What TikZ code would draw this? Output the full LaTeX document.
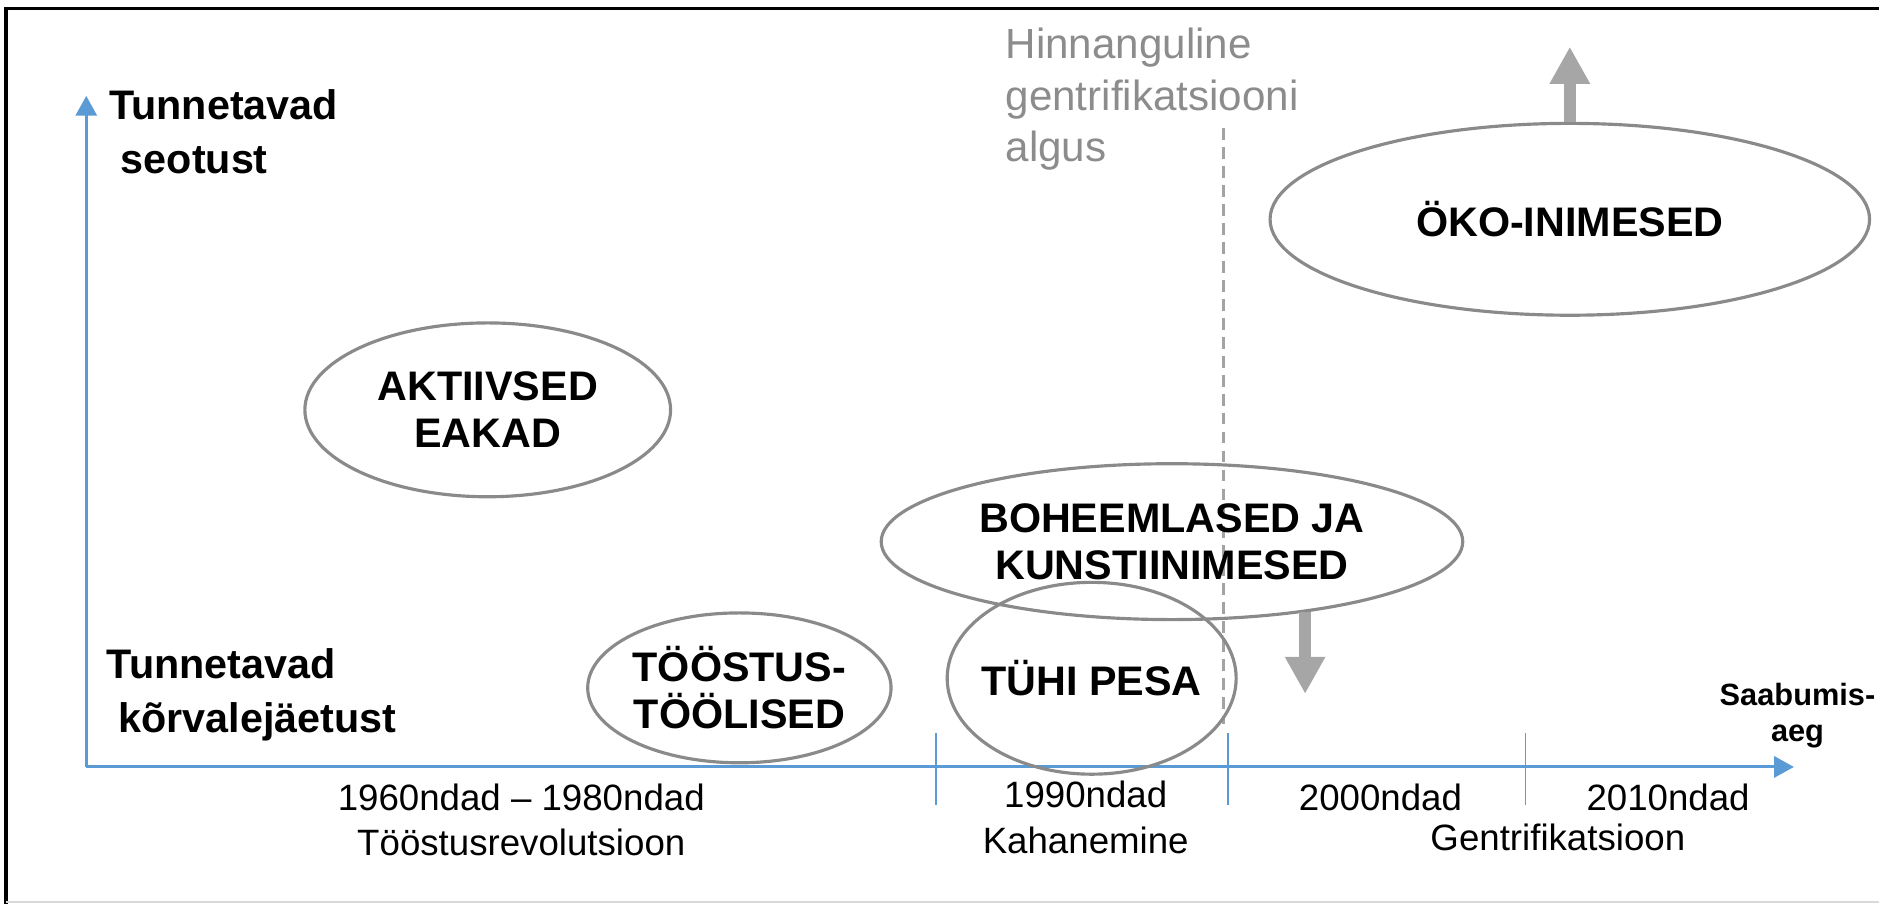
\documentclass[tikz,border=0pt]{standalone}
\usepackage{fontspec}
\setmainfont{Liberation Sans}
\usetikzlibrary{shapes.geometric,arrows.meta}
\definecolor{axisblue}{HTML}{5B9BD5}
\definecolor{ovalgray}{HTML}{8A8A8A}
\definecolor{arrowgray}{HTML}{A6A6A6}
\definecolor{notegray}{HTML}{8C8C8C}

\begin{document}
\begin{tikzpicture}[x=0.01cm, y=-0.01cm, line width=0.7pt,
	oval/.style={ellipse, draw=ovalgray, line width=0.75pt, inner sep=0pt, align=center, font=\fontsize{9.8}{11.1}\selectfont\bfseries},
	axislabel/.style={anchor=west, align=left, inner sep=0pt, font=\fontsize{9.8}{12.8}\selectfont\bfseries},
	note/.style={anchor=west, align=left, inner sep=0pt, text=notegray, font=\fontsize{10}{12.2}\selectfont},
	period/.style={align=center, inner sep=0pt, font=\fontsize{8.7}{10.8}\selectfont},
	axisline/.style={axisblue, line width=0.7pt, -{Triangle[length=4.7pt,width=5pt]}},
	tickline/.style={axisblue, line width=0.4pt},
	bigarrow/.style={arrowgray, line width=2.8pt, -{Triangle[length=8.8pt,width=9pt]}}]
\useasboundingbox (0,0) rectangle (1568,754);
\draw[black, line width=0.8pt] (1568,7)--(5,7)--(5,754);
\draw[black!15, line width=0.5pt] (5,753)--(1568,753);

\coordinate (o) at (72,640);
\coordinate (ytop) at (72,80);
\coordinate (xend) at (1497,640);
\draw[axisline] (o)--(ytop);
\draw[axisline] (o)--(xend);
\foreach \t in {781,1025,1273}{
	\draw[tickline] (\t,612)--(\t,672);
}
\draw[notegray!80, line width=0.5pt, dash pattern=on 2.8pt off 1.7pt] (1021,107)--(1021,604);

\node[axislabel] (seotus) at (90,110) {Tunnetavad\\\hspace*{.28em}seotust};
\node[axislabel] (korval) at (88,580) {Tunnetavad\\\hspace*{.28em}kõrvalejäetust};
\node[note] (hinnang) at (838,83) {Hinnanguline\\gentrifikatsiooni\\algus};
\node[align=center, inner sep=0pt, font=\fontsize{7.3}{8.6}\selectfont\bfseries] (saabumis) at (1500,597) {Saabumis-\\aeg};

\node[oval, minimum width=3.05cm, minimum height=1.45cm] (eakad) at (407,342) {AKTIIVSED\\EAKAD};
\node[oval, minimum width=2.53cm, minimum height=1.25cm] (toolised) at (617,574) {TÖÖSTUS-\\TÖÖLISED};
\node[oval, minimum width=4.85cm, minimum height=1.30cm] (boheem) at (978,452) {BOHEEMLASED JA\\KUNSTIINIMESED};
\node[oval, inner xsep=-0.1cm, minimum width=2.41cm, minimum height=1.60cm] (pesa) at (911,566) {TÜHI PESA};
\node[oval, minimum width=5.00cm, minimum height=1.60cm] (oko) at (1310,183) {ÖKO-INIMESED};

\coordinate (okotip) at (1310,39);
\draw[bigarrow] (oko.north)--(okotip);
\coordinate (droptip) at (1092,579);
\draw[bigarrow] (boheem.-28.5)--(boheem.-28.5 |- droptip);

\node[period] (sixties) at (435,684) {1960ndad – 1980ndad\\Tööstusrevolutsioon};
\node[period] (nineties) at (906,682) {1990ndad\\Kahanemine};
\node[period] (twothousands) at (1152,665) {2000ndad};
\node[period] (twentytens) at (1392,665) {2010ndad};
\node[period] (gentri) at (1300,699) {Gentrifikatsioon};
\end{tikzpicture}
\end{document}
